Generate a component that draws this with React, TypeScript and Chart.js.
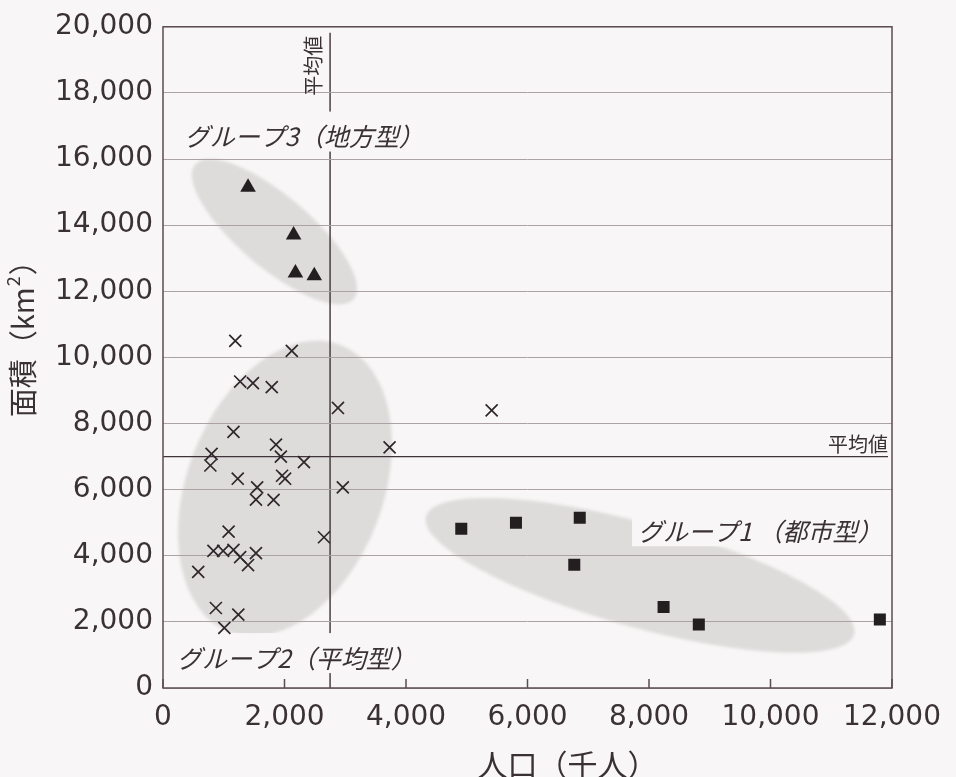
import React, { useEffect, useRef } from 'react';
import { Chart, registerables } from 'chart.js';

Chart.register(...registerables);

// ---- axis ticks ----
const X_TICKS = [0, 2000, 4000, 6000, 8000, 10000, 12000];
const Y_TICKS = [0, 2000, 4000, 6000, 8000, 10000, 12000, 14000, 16000, 18000, 20000];

// ---- series: グループ1（都市型） squares ----
const group1X = [4910, 5810, 6860, 6770, 8240, 8820, 11800];
const group1Y = [4820, 5000, 5150, 3730, 2450, 1920, 2070];

// ---- series: グループ2（平均型） crosses ----
const group2X = [1190, 2120, 1270, 1480, 1790, 2880, 1160, 800, 780, 1860, 1940, 2320, 3730, 1230, 1960, 2010, 1550, 1530, 1820, 2960, 1080, 2650, 830, 990, 1160, 1270, 1400, 1530, 580, 870, 1240, 1010, 5410];
const group2Y = [10500, 10200, 9270, 9220, 9100, 8470, 7750, 7080, 6730, 7360, 7000, 6830, 7280, 6330, 6420, 6330, 6070, 5700, 5690, 6070, 4730, 4560, 4150, 4150, 4180, 3960, 3720, 4080, 3510, 2420, 2220, 1820, 8400];

// ---- series: グループ3（地方型） triangles ----
const group3X = [1400, 2150, 2180, 2490];
const group3Y = [15150, 13700, 12550, 12470];

// ---- reference lines ----
const AVG_X = 2750;
const AVG_Y = 7000;
const AVG_LABEL = '平均値';

// ---- group annotations (data units) ----
const GROUP_LABELS = ['グループ1 （都市型）', 'グループ2（平均型）', 'グループ3（地方型）'];
const LABEL_X = [7820, 230, 360];
const LABEL_Y = [4740, 905, 16680];
const ELLIPSE_CX = [7852, 2008, 1835];
const ELLIPSE_CY = [3409, 6033, 13801];

const X_TITLE = '人口（千人）';
const Y_TITLE_MAIN = '面積（km';
const Y_TITLE_SUP = '2';
const Y_TITLE_END = '）';

// ---- styles ----
const BG = '#f8f6f6';
const TEXT = '#3a3135';
const FRAME = '#5b4c53';
const GRID = '#aaa2a5';
const MARK = '#231f20';
const ELLIPSE_FILL = '#dedbdb';
const ELLIPSE_A = [222, 154, 104];
const ELLIPSE_B = [52, 98, 36];
const ELLIPSE_ANGLE = [15.4, -68.8, 40.3];
const CJK = "'Noto Sans CJK JP', 'Noto Sans', sans-serif";
const LABEL_FONT = `italic 25px ${CJK}`;

const toPts = (xs: number[], ys: number[]) => xs.map((x, i) => ({ x, y: ys[i] }));
const fmt = (v: number) => Number(v).toLocaleString('en-US');

const overlay = {
  id: 'overlay',
  beforeDraw(chart: any) {
    const { ctx, chartArea: ca, scales } = chart;
    const xs = scales.x, ys = scales.y;
    ctx.save();
    ctx.fillStyle = BG;
    ctx.fillRect(0, 0, chart.width, chart.height);
    // ellipses
    ctx.filter = 'blur(1.5px)';
    ctx.fillStyle = ELLIPSE_FILL;
    for (let i = 0; i < ELLIPSE_CX.length; i++) {
      ctx.beginPath();
      ctx.ellipse(
        xs.getPixelForValue(ELLIPSE_CX[i]),
        ys.getPixelForValue(ELLIPSE_CY[i]),
        ELLIPSE_A[i], ELLIPSE_B[i], (ELLIPSE_ANGLE[i] * Math.PI) / 180, 0, Math.PI * 2
      );
      ctx.fill();
    }
    ctx.filter = 'none';
    // average lines
    const ax = xs.getPixelForValue(AVG_X);
    const ay = ys.getPixelForValue(AVG_Y);
    ctx.strokeStyle = '#3f3439';
    ctx.lineWidth = 1.4;
    ctx.beginPath();
    ctx.moveTo(ax, ca.top + 6);
    ctx.lineTo(ax, ca.bottom);
    ctx.moveTo(ca.left, ay);
    ctx.lineTo(ca.right - 4, ay);
    ctx.stroke();
    // label background boxes
    ctx.font = LABEL_FONT;
    for (let i = 0; i < GROUP_LABELS.length; i++) {
      const lx = xs.getPixelForValue(LABEL_X[i]);
      const ly = ys.getPixelForValue(LABEL_Y[i]);
      const w = ctx.measureText(GROUP_LABELS[i]).width;
      ctx.fillStyle = BG;
      ctx.fillRect(lx - 6, ly - 25, w + 12, 40);
    }
    ctx.restore();
  },
  beforeDatasetsDraw(chart: any) {
    const { ctx, chartArea: ca, scales } = chart;
    const xs = scales.x, ys = scales.y;
    ctx.save();
    // group labels
    ctx.font = LABEL_FONT;
    ctx.fillStyle = TEXT;
    ctx.textAlign = 'left';
    ctx.textBaseline = 'middle';
    for (let i = 0; i < GROUP_LABELS.length; i++) {
      ctx.fillText(GROUP_LABELS[i], xs.getPixelForValue(LABEL_X[i]), ys.getPixelForValue(LABEL_Y[i]));
    }
    // average labels
    const ax = xs.getPixelForValue(AVG_X);
    const ay = ys.getPixelForValue(AVG_Y);
    ctx.font = `20px ${CJK}`;
    ctx.textAlign = 'right';
    ctx.textBaseline = 'middle';
    ctx.fillText(AVG_LABEL, ca.right - 4, ay - 12);
    ctx.save();
    ctx.translate(ax - 17, ca.top + 39);
    ctx.rotate(-Math.PI / 2);
    ctx.textAlign = 'center';
    ctx.fillText(AVG_LABEL, 0, 0);
    ctx.restore();
    // frame
    ctx.strokeStyle = FRAME;
    ctx.lineWidth = 1.5;
    ctx.strokeRect(ca.left, ca.top, ca.right - ca.left, ca.bottom - ca.top);
    // inward x tick marks
    ctx.beginPath();
    for (const t of xs.ticks) {
      const px = xs.getPixelForValue(t.value);
      ctx.moveTo(px, ca.bottom);
      ctx.lineTo(px, ca.bottom - 9);
    }
    ctx.stroke();
    ctx.restore();
  },
  afterDraw(chart: any) {
    const { ctx, chartArea: ca } = chart;
    ctx.save();
    ctx.fillStyle = TEXT;
    // x title
    ctx.font = `30px ${CJK}`;
    ctx.textAlign = 'center';
    ctx.textBaseline = 'middle';
    ctx.fillText(X_TITLE, (ca.left + ca.right) / 2 + 40, ca.bottom + 77);
    // y title (rotated, with superscript)
    const mainFont = `29px ${CJK}`;
    const supFont = `18px ${CJK}`;
    ctx.font = mainFont;
    const w1 = ctx.measureText(Y_TITLE_MAIN).width;
    const w3 = ctx.measureText(Y_TITLE_END).width;
    ctx.font = supFont;
    const w2 = ctx.measureText(Y_TITLE_SUP).width + 2;
    const total = w1 + w2 + w3;
    ctx.translate(ca.left - 140, ca.top + 305);
    ctx.rotate(-Math.PI / 2);
    ctx.textAlign = 'left';
    ctx.textBaseline = 'middle';
    let cx = -total / 2;
    ctx.font = mainFont;
    ctx.fillText(Y_TITLE_MAIN, cx, 0);
    cx += w1;
    ctx.font = supFont;
    ctx.fillText(Y_TITLE_SUP, cx + 1, -10);
    cx += w2;
    ctx.font = mainFont;
    ctx.fillText(Y_TITLE_END, cx, 0);
    ctx.restore();
  },
};

export default function App() {
  const ref = useRef<HTMLCanvasElement>(null);
  useEffect(() => {
    if (!ref.current) return;
    const tickFont = { family: "'DejaVu Sans', sans-serif", size: 28 };
    const chart = new Chart(ref.current, {
      type: 'scatter',
      data: {
        datasets: [
          {
            label: 'グループ2（平均型）',
            data: toPts(group2X, group2Y),
            pointStyle: 'crossRot',
            radius: 8.5,
            borderWidth: 1.7,
            borderColor: '#2f272b',
            backgroundColor: '#2f272b',
          },
          {
            label: 'グループ3（地方型）',
            data: toPts(group3X, group3Y),
            pointStyle: 'triangle',
            radius: 9,
            borderWidth: 0,
            backgroundColor: MARK,
            borderColor: MARK,
          },
          {
            label: 'グループ1（都市型）',
            data: toPts(group1X, group1Y),
            pointStyle: 'rect',
            radius: 8.5,
            borderWidth: 0,
            backgroundColor: MARK,
            borderColor: MARK,
          },
        ],
      },
      plugins: [overlay],
      options: {
        animation: false,
        responsive: false,
        maintainAspectRatio: false,
        events: [],
        layout: { padding: { left: 0, top: 25, right: 64, bottom: 0 } },
        plugins: { legend: { display: false }, tooltip: { enabled: false }, title: { display: false } },
        scales: {
          x: {
            type: 'linear',
            min: X_TICKS[0],
            max: X_TICKS[X_TICKS.length - 1],
            afterFit: (s: any) => { s.height = 89; },
            afterBuildTicks: (s: any) => { s.ticks = X_TICKS.map((v) => ({ value: v })); },
            grid: { display: false, drawTicks: false },
            border: { display: false },
            ticks: { autoSkip: false, maxRotation: 0, padding: 13, font: tickFont, color: TEXT, callback: (v: any) => fmt(v) },
          },
          y: {
            type: 'linear',
            min: Y_TICKS[0],
            max: Y_TICKS[Y_TICKS.length - 1],
            afterFit: (s: any) => { s.width = 163; },
            afterBuildTicks: (s: any) => { s.ticks = Y_TICKS.map((v) => ({ value: v })); },
            grid: { display: true, drawTicks: false, color: GRID, lineWidth: 1 },
            border: { display: false },
            ticks: { padding: 10, font: tickFont, color: TEXT, callback: (v: any) => fmt(v) },
          },
        },
      } as any,
    });
    return () => chart.destroy();
  }, []);
  return (
    <div style={{ position: 'fixed', left: 0, top: 0, width: 956, height: 777, background: BG }}>
      <canvas ref={ref} width={956} height={777} style={{ display: 'block' }} />
    </div>
  );
}
